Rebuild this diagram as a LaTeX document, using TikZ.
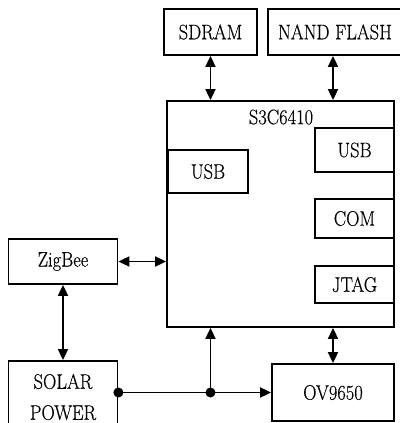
\documentclass[tikz,border=0pt]{standalone}
\usepackage{fontspec}
\setmainfont{Latin Modern Roman}[FakeStretch=0.88, FakeBold=0.4]
\usepackage{tikz}
\usetikzlibrary{arrows.meta, positioning, calc}

\begin{document}
\begin{tikzpicture}[x=1pt, y=-1pt, >={Triangle[length=11pt, width=10pt]},
    blk/.style={draw, line width=1.8pt, inner sep=0pt, font=\fontsize{21}{31}\selectfont, align=center},
    link/.style={line width=1.8pt},
    tapdot/.style={circle, fill, inner sep=0pt, minimum size=10pt}]
  \useasboundingbox (0,0) rectangle (399,423);
  % memories on top
  \node[blk, minimum width=93pt, minimum height=46pt] (sdram) at (210.5,32) {SDRAM};
  \node[blk, minimum width=134pt, minimum height=46pt] (nand) at (335,32) {NAND FLASH};
  % processor with its interfaces
  \node[blk, minimum width=227pt, minimum height=226pt] (soc) at (280.5,214) {};
  \node[font=\fontsize{21}{24}\selectfont] (soctitle) at (281,117) {S3C6410};
  \node[blk, minimum width=80pt, minimum height=43pt] (usbl) at (208,171.5) {USB};
  \foreach \n/\t/\y/\h in {usbr/USB/150/44, com/COM/218.5/39, jtag/JTAG/284.5/37} {
    \node[blk, minimum width=79pt, minimum height=\h pt] (\n) at (354.5,\y) {\t};
  }
  % peripherals
  \node[blk, minimum width=109pt, minimum height=45pt] (zigbee) at (63,261.5) {ZigBee};
  \node[blk, minimum width=109pt, minimum height=72pt] (solar) at (63,397) {SOLAR\\POWER};
  \node[blk, minimum width=122pt, minimum height=57pt] (ov) at (333,392.5) {OV9650};
  % connections
  \draw[link, <->] (sdram.south) -- (sdram.south |- soc.north);
  \draw[link, <->] (ov.north |- nand.south) -- (ov.north |- soc.north);
  \draw[link, <->] (zigbee.east) -- (zigbee.east -| soc.west);
  \draw[link, <->] (zigbee.south) -- (solar.north);
  \draw[link, <->] (ov.north) -- (ov.north |- soc.south);
  \coordinate (pwr) at (solar.east |- ov.west);
  \coordinate (tap) at (sdram.south |- ov.west);
  \draw[link, ->] (pwr) -- (ov.west);
  \draw[link, ->] (tap) -- (tap |- soc.south);
  \node[tapdot] (pwrdot) at (pwr) {};
  \node[tapdot] (tapdot) at (tap) {};
\end{tikzpicture}
\end{document}
